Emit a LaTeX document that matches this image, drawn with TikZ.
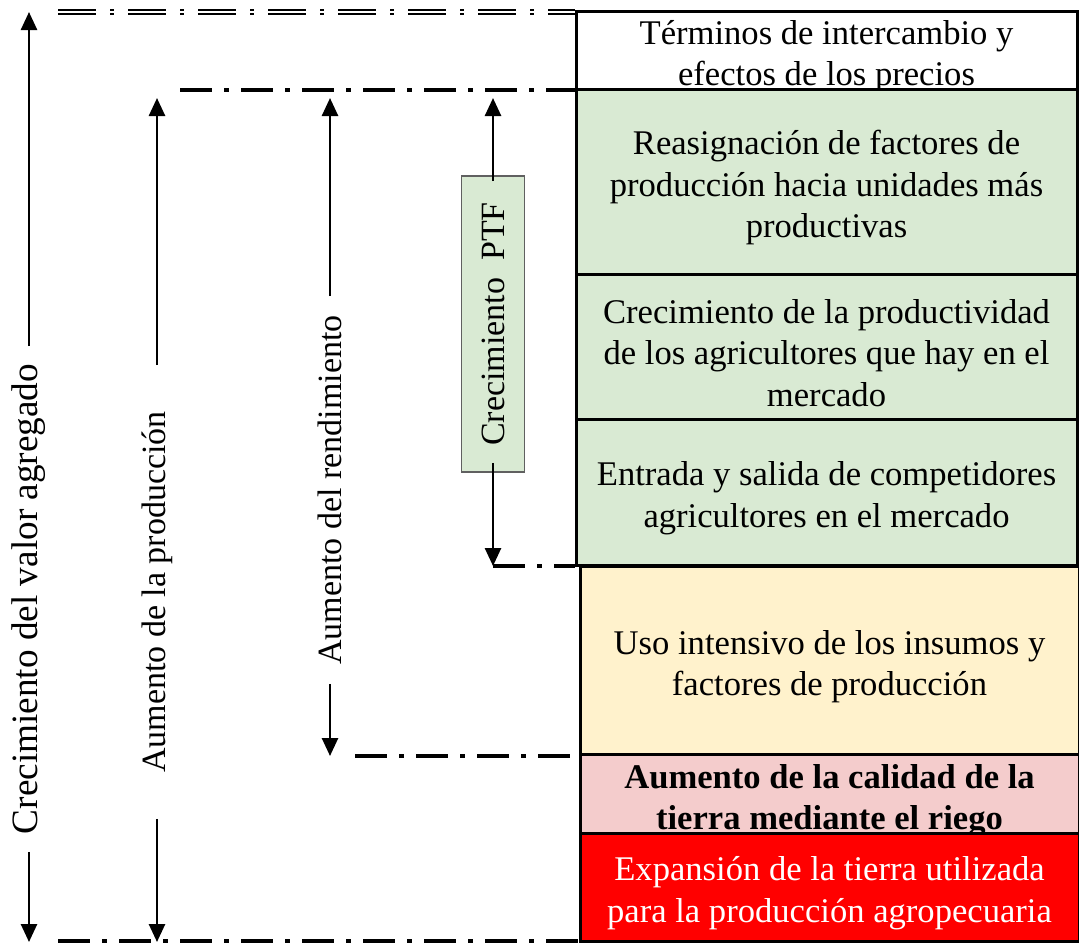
\documentclass[tikz,border=0pt]{standalone}
\usepackage{fontspec}
\setmainfont{Liberation Serif}
\usepackage{tikz}
\usetikzlibrary{arrows.meta, positioning}
\definecolor{PTFGreen}{RGB}{217,234,211}
\definecolor{UsoYellow}{RGB}{255,242,204}
\definecolor{RiegoPink}{RGB}{244,204,204}
\definecolor{TierraRed}{RGB}{255,0,0}
% strut that lowers the text in the boxes a little
\newcommand{\arriba}{\rule{0pt}{18.5pt}}
\tikzset{
    % Source box (rectangle of the stacked column)
    fuente/.style={rectangle, draw=black, line width=1.5pt, align=center,
        minimum width=250.5pt, inner sep=0pt, font=\fontsize{17.3}{20.8}\selectfont},
    % Source box that belongs to the PTF
    fuenteptf/.style={fuente, fill=PTFGreen},
    % Lower sources (one pixel to the right)
    fuentebaja/.style={fuente, minimum width=249.5pt},
    % Thin box: the text may touch its border
    ajustada/.style={inner ysep=-4pt},
    % Vertical label that cuts an arrow
    vlabel/.style={rotate=90, inner sep=0pt, font=\fontsize{17}{20.5}\selectfont},
    % PTF label (framed)
    ptflabel/.style={vlabel, fill=PTFGreen, draw=gray!75!black, line width=0.8pt},
    % Arrow
    flecha/.style={-{Triangle[length=9pt, width=8pt]}, line width=1.3pt},
    % Dash-dot limit line
    limite/.style={line width=2pt, dash pattern=on 16pt off 6pt on 2.5pt off 6pt},
    % Double dash-dot limit line
    limitedoble/.style={line width=0.8pt, double distance=1pt,
        dash pattern=on 19pt off 7pt on 2pt off 7pt},
}
\begin{document}
\begin{tikzpicture}[x=0.5pt, y=-0.5pt]
    \useasboundingbox (0,0) rectangle (1079,943);
    % column of sources
    \node[fuente, ajustada, fill=white, minimum height=39pt] (terminos) at (826.5,50)
        {\arriba Términos de intercambio y\\efectos de los precios};
    \node[fuenteptf, minimum height=92.5pt] (reasignacion) at (826.5,181.5)
        {\arriba Reasignación de factores de\\producción hacia unidades más\\productivas};
    \node[fuenteptf, minimum height=72.5pt] (productividad) at (826.5,346.5)
        {\arriba Crecimiento de la productividad\\de los agricultores que hay en el\\mercado};
    \node[fuenteptf, minimum height=73pt] (entrada) at (826.5,492)
        {\arriba Entrada y salida de competidores\\agricultores en el mercado};
    \node[fuentebaja, fill=UsoYellow, minimum height=94pt] (intensivo) at (829.5,660)
        {\arriba Uso intensivo de los insumos y\\factores de producción};
    \node[fuentebaja, ajustada, fill=RiegoPink, minimum height=39.5pt,
        font=\fontsize{17.3}{20.3}\selectfont\bfseries] (riego) at (829.5,794)
        {\arriba Aumento de la calidad de la\\tierra mediante el riego};
    \node[fuentebaja, fill=TierraRed, text=white, minimum height=54pt] (expansion) at (829.5,887)
        {\arriba Expansión de la tierra utilizada\\para la producción agropecuaria};

    % limit lines
    \coordinate (valorlim) at (58,12);
    \coordinate (produccionlim) at (180,90);
    \coordinate (ptflim) at (493,566);
    \coordinate (rendimientolim) at (355,756);
    \coordinate (baselim) at (58,941);
    \draw[limitedoble] (valorlim) -- (valorlim -| terminos.west);
    \draw[limite] (produccionlim) -- (produccionlim -| reasignacion.west);
    \draw[limite] (ptflim) -- (ptflim -| entrada.west);
    \draw[limite] (rendimientolim) -- (rendimientolim -| riego.west);
    \draw[limite] (baselim) -- (baselim -| expansion.west);

    % vertical arrows
    \node[vlabel, minimum width=252.5pt, font=\fontsize{18.6}{22}\selectfont] (valor) at (29,599)
        {Crecimiento del valor agregado};
    \node[vlabel, minimum width=226.5pt] (produccion) at (157,592) {Aumento de la producción};
    \node[vlabel, minimum width=193.5pt] (rendimiento) at (330,490) {Aumento del rendimiento};
    \node[ptflabel, minimum width=148pt, minimum height=31.5pt] (ptf) at (493,324) {Crecimiento\enspace PTF};
    \coordinate (valorarriba) at (29,12);
    \coordinate (valorabajo) at (29,942);
    \coordinate (produccionarriba) at (157,98);
    \coordinate (produccionabajo) at (157,942);
    \coordinate (rendimientoarriba) at (330,98);
    \coordinate (rendimientoabajo) at (330,756);
    \coordinate (ptfarriba) at (493,98);
    \coordinate (ptfabajo) at (493,566);
    \draw[flecha] (valor) -- (valorarriba);
    \draw[flecha] (valor) -- (valorabajo);
    \draw[flecha] (produccion) -- (produccionarriba);
    \draw[flecha] (produccion) -- (produccionabajo);
    \draw[flecha] (rendimiento) -- (rendimientoarriba);
    \draw[flecha] (rendimiento) -- (rendimientoabajo);
    \draw[flecha] ([yshift=-3pt]ptf.east) -- (ptfarriba);
    \draw[flecha] ([yshift=5pt]ptf.west) -- (ptfabajo);
\end{tikzpicture}
\end{document}
